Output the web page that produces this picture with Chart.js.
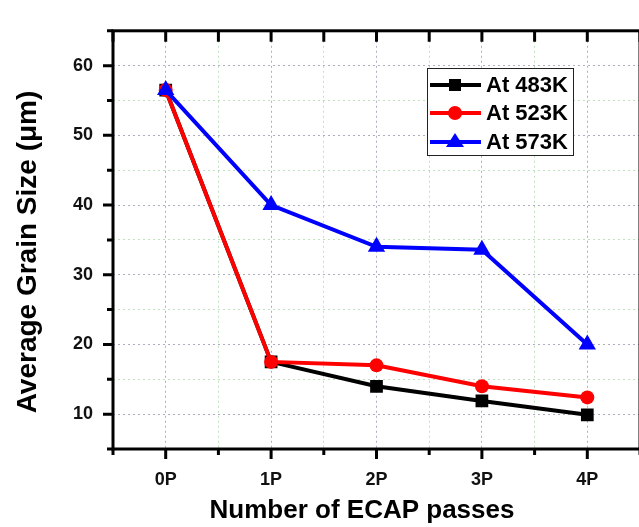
<!DOCTYPE html>
<html lang="en">
<head>
    <meta charset="UTF-8">
    <title>Average Grain Size vs ECAP passes</title>
    <style>
        html, body { margin: 0; padding: 0; background: #fff; overflow: hidden; }
        .wrap { width: 639px; height: 527px; overflow: hidden; }
    </style>
    <script src="https://cdn.jsdelivr.net/npm/chart.js@4/dist/chart.umd.min.js"></script>
</head>
<body>
    <div class="wrap">
        <canvas id="grafica" width="660" height="527"></canvas>
    </div>
    <script>
        const passes = ['0P', '1P', '2P', '3P', '4P'];
        const seriesNames = ['At 483K', 'At 523K', 'At 573K'];
        const at483 = [56.5, 17.5, 14.0, 11.9, 9.9];
        const at523 = [56.5, 17.5, 17.0, 14.0, 12.4];
        const at573 = [56.5, 40.0, 34.0, 33.6, 20.0];
        const yTicks = [10, 20, 30, 40, 50, 60];

        const FONT = '"Liberation Sans", Arial, sans-serif';
        const toPoints = arr => arr.map((v, i) => ({ x: i, y: v }));

        const styles = [
            { color: '#000000', pointStyle: 'rect', radius: 9, order: 3 },
            { color: '#ff0000', pointStyle: 'circle', radius: 7, order: 2 },
            { color: '#0000ff', pointStyle: 'triangle', radius: 10, order: 1 }
        ];
        const values = [at483, at523, at573];

        const datasets = seriesNames.map((name, k) => ({
            label: name,
            data: toPoints(values[k]),
            borderColor: styles[k].color,
            backgroundColor: styles[k].color,
            borderWidth: 4,
            pointStyle: styles[k].pointStyle,
            pointRadius: styles[k].radius,
            pointBorderWidth: 0,
            order: styles[k].order,
            tension: 0
        }));

        // marco, marcas de los ejes, titulos y leyenda
        const framePlugin = {
            id: 'frame',
            afterDraw(chart) {
                const ctx = chart.ctx;
                const a = chart.chartArea;
                const xs = chart.scales.x, ys = chart.scales.y;
                ctx.save();
                ctx.strokeStyle = '#000';
                ctx.lineWidth = 3;
                ctx.strokeRect(a.left, a.top, a.right - a.left, a.bottom - a.top);

                ctx.lineWidth = 3;
                ctx.beginPath();
                for (let v = -0.5; v <= 4.5; v += 0.5) {
                    const px = xs.getPixelForValue(v);
                    const major = Number.isInteger(v);
                    ctx.moveTo(px, a.bottom);
                    ctx.lineTo(px, a.bottom + (major ? 10 : 6));
                    ctx.moveTo(px, a.top);
                    ctx.lineTo(px, a.top + 11);
                }
                for (let v = 5; v <= 65; v += 5) {
                    const py = ys.getPixelForValue(v);
                    const major = v % 10 === 0;
                    ctx.moveTo(a.left, py);
                    ctx.lineTo(a.left - (major ? 10 : 6), py);
                }
                ctx.stroke();

                // titulos de los ejes
                ctx.fillStyle = '#000';
                ctx.textAlign = 'center';
                ctx.textBaseline = 'middle';
                ctx.font = 'bold 26px ' + FONT;
                ctx.fillText('Number of ECAP passes', 362, 511);
                ctx.save();
                ctx.translate(28, 252);
                ctx.rotate(-Math.PI / 2);
                ctx.font = 'bold 28px ' + FONT;
                ctx.fillText('Average Grain Size (\u03bcm)', 0, 0);
                ctx.restore();

                // leyenda
                const lx = 427, ly = 68, lw = 146, lh = 87;
                ctx.fillStyle = '#fff';
                ctx.fillRect(lx, ly, lw, lh);
                ctx.lineWidth = 1;
                ctx.strokeStyle = '#222';
                ctx.strokeRect(lx + 0.5, ly + 0.5, lw, lh);
                const rows = [85, 113, 142];
                chart.data.datasets.forEach((ds, k) => {
                    const y = rows[k];
                    ctx.strokeStyle = ds.borderColor;
                    ctx.fillStyle = ds.borderColor;
                    ctx.lineWidth = 4;
                    ctx.beginPath();
                    ctx.moveTo(430, y);
                    ctx.lineTo(481, y);
                    ctx.stroke();
                    const cx = 455;
                    ctx.beginPath();
                    if (ds.pointStyle === 'rect') {
                        ctx.rect(cx - 6, y - 6, 12, 12);
                    } else if (ds.pointStyle === 'circle') {
                        ctx.arc(cx, y, 7, 0, Math.PI * 2);
                    } else {
                        ctx.moveTo(cx, y - 9);
                        ctx.lineTo(cx + 9, y + 5);
                        ctx.lineTo(cx - 9, y + 5);
                        ctx.closePath();
                    }
                    ctx.fill();
                    ctx.fillStyle = '#000';
                    ctx.textAlign = 'left';
                    ctx.font = 'bold 22px ' + FONT;
                    ctx.fillText(ds.label, 486, y + 1);
                });
                ctx.restore();
            }
        };

        const gridColor = (major) => major ? 'rgba(120,120,150,0.6)' : 'rgba(150,205,150,0.6)';

        const config = {
            type: 'line',
            data: { datasets: datasets },
            options: {
                responsive: false,
                animation: false,
                layout: { padding: { top: 13, right: 15, left: 0, bottom: 0 } },
                plugins: {
                    legend: { display: false },
                    tooltip: { enabled: false }
                },
                scales: {
                    x: {
                        type: 'linear',
                        min: -0.5,
                        max: 4.5,
                        afterFit: s => { s.height = 78; },
                        grid: {
                            drawTicks: false,
                            lineWidth: 1,
                            color: c => gridColor(Number.isInteger(c.tick.value))
                        },
                        border: { display: false, dash: [2, 3] },
                        ticks: {
                            stepSize: 0.5,
                            autoSkip: false,
                            maxRotation: 0,
                            padding: 20,
                            color: '#111',
                            font: { family: FONT, size: 18, weight: 'bold' },
                            callback: v => Number.isInteger(v) ? passes[v] : ''
                        }
                    },
                    y: {
                        min: 5,
                        max: 65,
                        afterFit: s => { s.width = 113; },
                        grid: {
                            drawTicks: false,
                            lineWidth: 1,
                            color: c => gridColor(c.tick.value % 10 === 0)
                        },
                        border: { display: false, dash: [2, 3] },
                        ticks: {
                            stepSize: 5,
                            autoSkip: false,
                            padding: 20,
                            color: '#111',
                            font: { family: FONT, size: 18, weight: 'bold' },
                            callback: v => yTicks.includes(v) ? String(v) : ''
                        }
                    }
                }
            },
            plugins: [framePlugin]
        };

        new Chart(document.getElementById('grafica'), config);
    </script>
</body>
</html>
